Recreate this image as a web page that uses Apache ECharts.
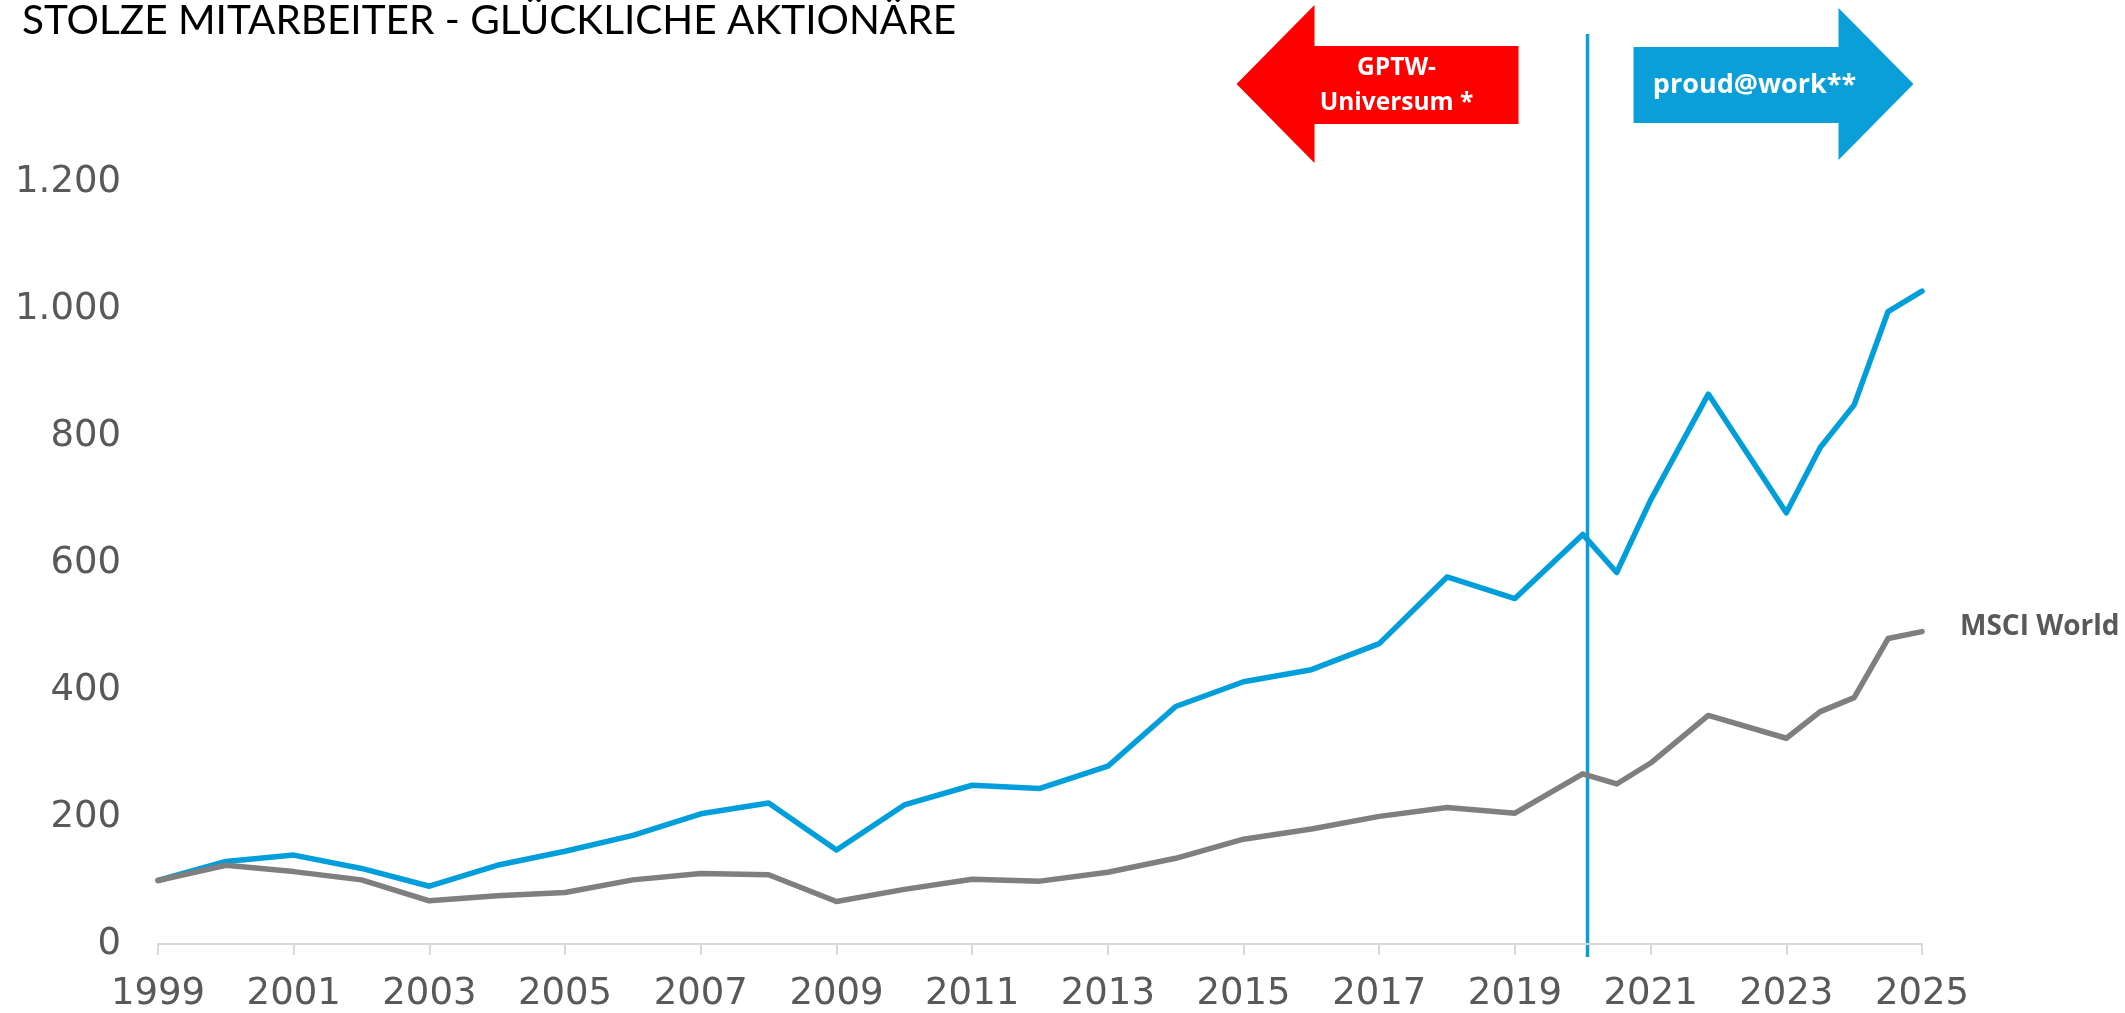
<!DOCTYPE html>
<html>
<head>
<meta charset="utf-8">
<script src="https://cdn.jsdelivr.net/npm/echarts@6/dist/echarts.min.js"></script>
<style>
html,body{margin:0;padding:0;background:#fff;}
#chart{width:2125px;height:1013px;}
</style>
</head>
<body>
<div id="chart"></div>
<script>
// ---- data ----
const years = [1999,2000,2001,2002,2003,2004,2005,2006,2007,2008,2009,2010,2011,2012,2013,2014,2015,2016,2017,2018,2019,2020,2020.5,2021,2021.85,2023,2023.5,2024,2024.5,2025];
const gptwValues = [100,130,140,119,91,124,146,171,205,222,148,219,250,245,280,374,413,432,473,578,544,645,585,699,866,679,782,849,996,1028];
const msciValues = [100,124,114,101,68,76,81,101,111,109,67,86,102,99,113,135,165,181,201,215,206,268,252,285,360,324,366,388,481,492];
const yTicks = [0,200,400,600,800,1000,1200];
const xTicks = [1999,2001,2003,2005,2007,2009,2011,2013,2015,2017,2019,2021,2023,2025];
const dividerYear = 2020.07;
const titleText = 'STOLZE MITARBEITER - GLÜCKLICHE AKTIONÄRE';
const leftArrowText = 'GPTW-\nUniversum *';
const rightArrowText = 'proud@work**';
const msciLabel = 'MSCI World';

function pairs(xs, ys){ return xs.map((x,i)=>[x, ys[i]]); }
function fmtThousands(v){ return String(v).replace(/\B(?=(\d{3})+(?!\d))/g, '.'); }

const chart = echarts.init(document.getElementById('chart'));
const option = {
  animation: false,
  backgroundColor: '#ffffff',
  title: {
    text: titleText,
    left: 22, top: 0, padding: 0,
    textStyle: {fontFamily: 'Lato', fontSize: 40.5, fontWeight: 'normal', color: '#000000'}
  },
  grid: {left: 158, right: 203, top: 182, bottom: 63.5, containLabel: false},
  xAxis: {
    type: 'value', min: 1999, max: 2025, interval: 2,
    axisLine: {show: true, lineStyle: {color: '#d9d9d9', width: 2}},
    axisTick: {show: true, length: 11, lineStyle: {color: '#d9d9d9', width: 2}},
    splitLine: {show: false},
    axisLabel: {
      margin: 32, color: '#595959', fontFamily: 'DejaVu Sans', fontSize: 37,
      formatter: v => xTicks.includes(v) ? String(v) : ''
    }
  },
  yAxis: {
    type: 'value', min: 0, max: 1200, interval: 200,
    axisLine: {show: false}, axisTick: {show: false}, splitLine: {show: false},
    axisLabel: {
      margin: 37, color: '#595959', fontFamily: 'DejaVu Sans', fontSize: 37,
      formatter: v => yTicks.includes(v) ? fmtThousands(v) : ''
    }
  },
  series: [
    {
      name: 'GPTW', type: 'line', data: pairs(years, gptwValues),
      showSymbol: false, symbol: 'none', clip: false,
      lineStyle: {color: '#009fdc', width: 5.5, join: 'round', cap: 'round'}
    },
    {
      name: 'MSCI World', type: 'line', data: pairs(years, msciValues),
      showSymbol: false, symbol: 'none', clip: false,
      lineStyle: {color: '#7f7f7f', width: 5.5, join: 'round', cap: 'round'},
      endLabel: {
        show: true, formatter: msciLabel, distance: 38, offset: [0, -5],
        fontFamily: 'Open Sans', fontWeight: 'bold', fontSize: 28, color: '#595959'
      }
    }
  ]
};
chart.setOption(option);

// divider line and arrows anchored to the divider year
const divTop = chart.convertToPixel({gridIndex: 0}, [dividerYear, 1200]);
const divBot = chart.convertToPixel({gridIndex: 0}, [dividerYear, 0]);
const lx = divTop[0];
const redR = lx - 69, blueL = lx + 46;
chart.setOption({
  graphic: [
    {type: 'line', shape: {x1: lx, y1: 34, x2: lx, y2: divBot[1] + 13}, style: {stroke: '#0a9fd9', lineWidth: 3.5}},
    {type: 'polygon', shape: {points: [
      [redR - 282, 84], [redR - 204, 5], [redR - 204, 46], [redR, 46], [redR, 124], [redR - 204, 124], [redR - 204, 163]
    ]}, style: {fill: '#ff0000'}},
    {type: 'text', x: redR - 122, y: 86, style: {
      text: leftArrowText, fill: '#ffffff', font: 'bold 24.5px "Open Sans"', align: 'center', verticalAlign: 'middle', lineHeight: 35
    }},
    {type: 'polygon', shape: {points: [
      [blueL, 47], [blueL + 205, 47], [blueL + 205, 8], [blueL + 280, 84], [blueL + 205, 160], [blueL + 205, 123], [blueL, 123]
    ]}, style: {fill: '#0a9fd9'}},
    {type: 'text', x: blueL + 121, y: 85, style: {
      text: rightArrowText, fill: '#ffffff', font: 'bold 27px "Open Sans"', align: 'center', verticalAlign: 'middle'
    }}
  ]
});
</script>
</body>
</html>
